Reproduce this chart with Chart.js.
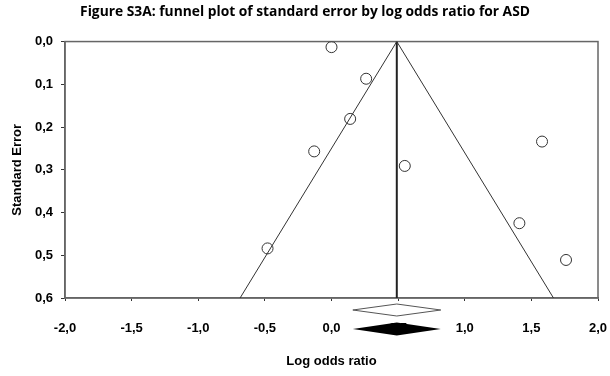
<!DOCTYPE html>
<html>
<head>
<meta charset="utf-8">
<script src="https://cdn.jsdelivr.net/npm/chart.js@4/dist/chart.umd.min.js"></script>
<style>
  html, body { margin: 0; padding: 0; background: #fff; }
  #wrap { width: 610px; height: 376px; position: relative; }
</style>
</head>
<body>
<div id="wrap"><canvas id="funnel"></canvas></div>
<script>
// study estimates (log odds ratio, standard error)
const studyLogOR = [0.00, 0.26, 0.14, -0.13, -0.48, 0.55, 1.58, 1.41, 1.76];
const studySE    = [0.013, 0.087, 0.181, 0.257, 0.484, 0.291, 0.234, 0.425, 0.511];

// pooled estimate and 95% funnel limits
const pooledLogOR = 0.49;
const seMax = 0.6;
const funnelZ = 1.96;

// summary diamonds (lower, estimate, upper)
const diamondOpen   = [0.16, 0.49, 0.82];
const diamondFilled = [0.16, 0.49, 0.82];

const xTicks = [-2, -1.5, -1, -0.5, 0, 0.5, 1, 1.5, 2];
const yTicks = [0, 0.1, 0.2, 0.3, 0.4, 0.5, 0.6];

function comma(v) {
  return Number(v).toFixed(1).replace('.', ',');
}

const points = studyLogOR.map((x, i) => ({ x, y: studySE[i] }));
const funnel = [
  { x: pooledLogOR - funnelZ * seMax, y: seMax },
  { x: pooledLogOR, y: 0 },
  { x: pooledLogOR + funnelZ * seMax, y: seMax },
];
const centre = [
  { x: pooledLogOR, y: 0 },
  { x: pooledLogOR, y: seMax },
];

const frame = {
  id: 'frame',
  beforeDatasetsDraw(chart) {
    const { ctx, chartArea: a } = chart;
    ctx.save();
    ctx.strokeStyle = '#666';
    ctx.lineWidth = 1.5;
    ctx.strokeRect(a.left, a.top, a.right - a.left, a.bottom - a.top);
    ctx.restore();
  }
};

const diamonds = {
  id: 'diamonds',
  afterDraw(chart) {
    const { ctx } = chart;
    const xs = chart.scales.x;
    function diamond(d, cy, half, filled) {
      const l = xs.getPixelForValue(d[0]);
      const m = xs.getPixelForValue(d[1]);
      const r = xs.getPixelForValue(d[2]);
      ctx.beginPath();
      ctx.moveTo(l, cy);
      ctx.lineTo(m, cy - half);
      ctx.lineTo(r, cy);
      ctx.lineTo(m, cy + half);
      ctx.closePath();
      if (filled) {
        ctx.fillStyle = '#000';
        ctx.fill();
      } else {
        ctx.fillStyle = '#fff';
        ctx.fill();
        ctx.strokeStyle = '#555';
        ctx.lineWidth = 1;
        ctx.stroke();
      }
    }
    ctx.save();
    diamond(diamondOpen, 310, 6, false);
    diamond(diamondFilled, 329, 6.5, true);
    ctx.restore();
  }
};

new Chart(document.getElementById('funnel'), {
  type: 'scatter',
  data: {
    datasets: [
      {
        label: 'Studies',
        data: points,
        pointRadius: 5.5,
        pointBorderWidth: 1,
        pointBorderColor: '#333',
        pointBackgroundColor: 'rgba(255,255,255,0)',
        showLine: false,
      },
      {
        label: 'Funnel',
        data: funnel,
        showLine: true,
        borderColor: '#333',
        borderWidth: 1,
        pointRadius: 0,
      },
      {
        label: 'Pooled',
        data: centre,
        showLine: true,
        borderColor: '#222',
        borderWidth: 2,
        pointRadius: 0,
      },
    ]
  },
  options: {
    responsive: true,
    maintainAspectRatio: false,
    animation: false,
    layout: { padding: { left: 0, right: 0, top: 0, bottom: 0 } },
    plugins: {
      legend: { display: false },
      tooltip: { enabled: false },
      title: {
        display: true,
        text: 'Figure S3A: funnel plot of standard error by log odds ratio for ASD',
        color: '#000',
        font: { family: 'Open Sans', size: 13.8, weight: 'bold' },
        padding: { top: 4, bottom: 21 },
      }
    },
    scales: {
      x: {
        type: 'linear',
        min: -2,
        max: 2,
        afterBuildTicks(s) { s.ticks = xTicks.map(v => ({ value: v })); },
        afterFit(s) {
          s.height = 78;
          s.paddingLeft = 0;
          s.paddingRight = 12;
        },
        border: { display: true, color: '#666', width: 1.5 },
        grid: { drawOnChartArea: false, drawTicks: true, tickLength: 3, color: '#333' },
        ticks: {
          padding: 20,
          color: '#000',
          font: { family: 'Liberation Sans', size: 13, weight: 'bold' },
          callback: v => comma(v),
        },
        title: {
          display: true,
          text: 'Log odds ratio',
          color: '#000',
          font: { family: 'Liberation Sans', size: 13, weight: 'bold' },
          padding: { top: 0, bottom: 7 },
        }
      },
      y: {
        type: 'linear',
        reverse: true,
        min: 0,
        max: 0.6,
        afterBuildTicks(s) { s.ticks = yTicks.map(v => ({ value: v })); },
        afterFit(s) { s.width = 65; },
        border: { display: true, color: '#666', width: 1.5 },
        grid: { drawOnChartArea: false, drawTicks: true, tickLength: 4, color: '#333' },
        ticks: {
          padding: 8,
          color: '#000',
          font: { family: 'Liberation Sans', size: 13, weight: 'bold' },
          callback: v => comma(v),
        },
        title: {
          display: true,
          text: 'Standard Error',
          color: '#000',
          font: { family: 'Liberation Sans', size: 13, weight: 'bold' },
          padding: { top: 10, bottom: 0 },
        }
      }
    }
  },
  plugins: [frame, diamonds]
});
</script>
</body>
</html>
